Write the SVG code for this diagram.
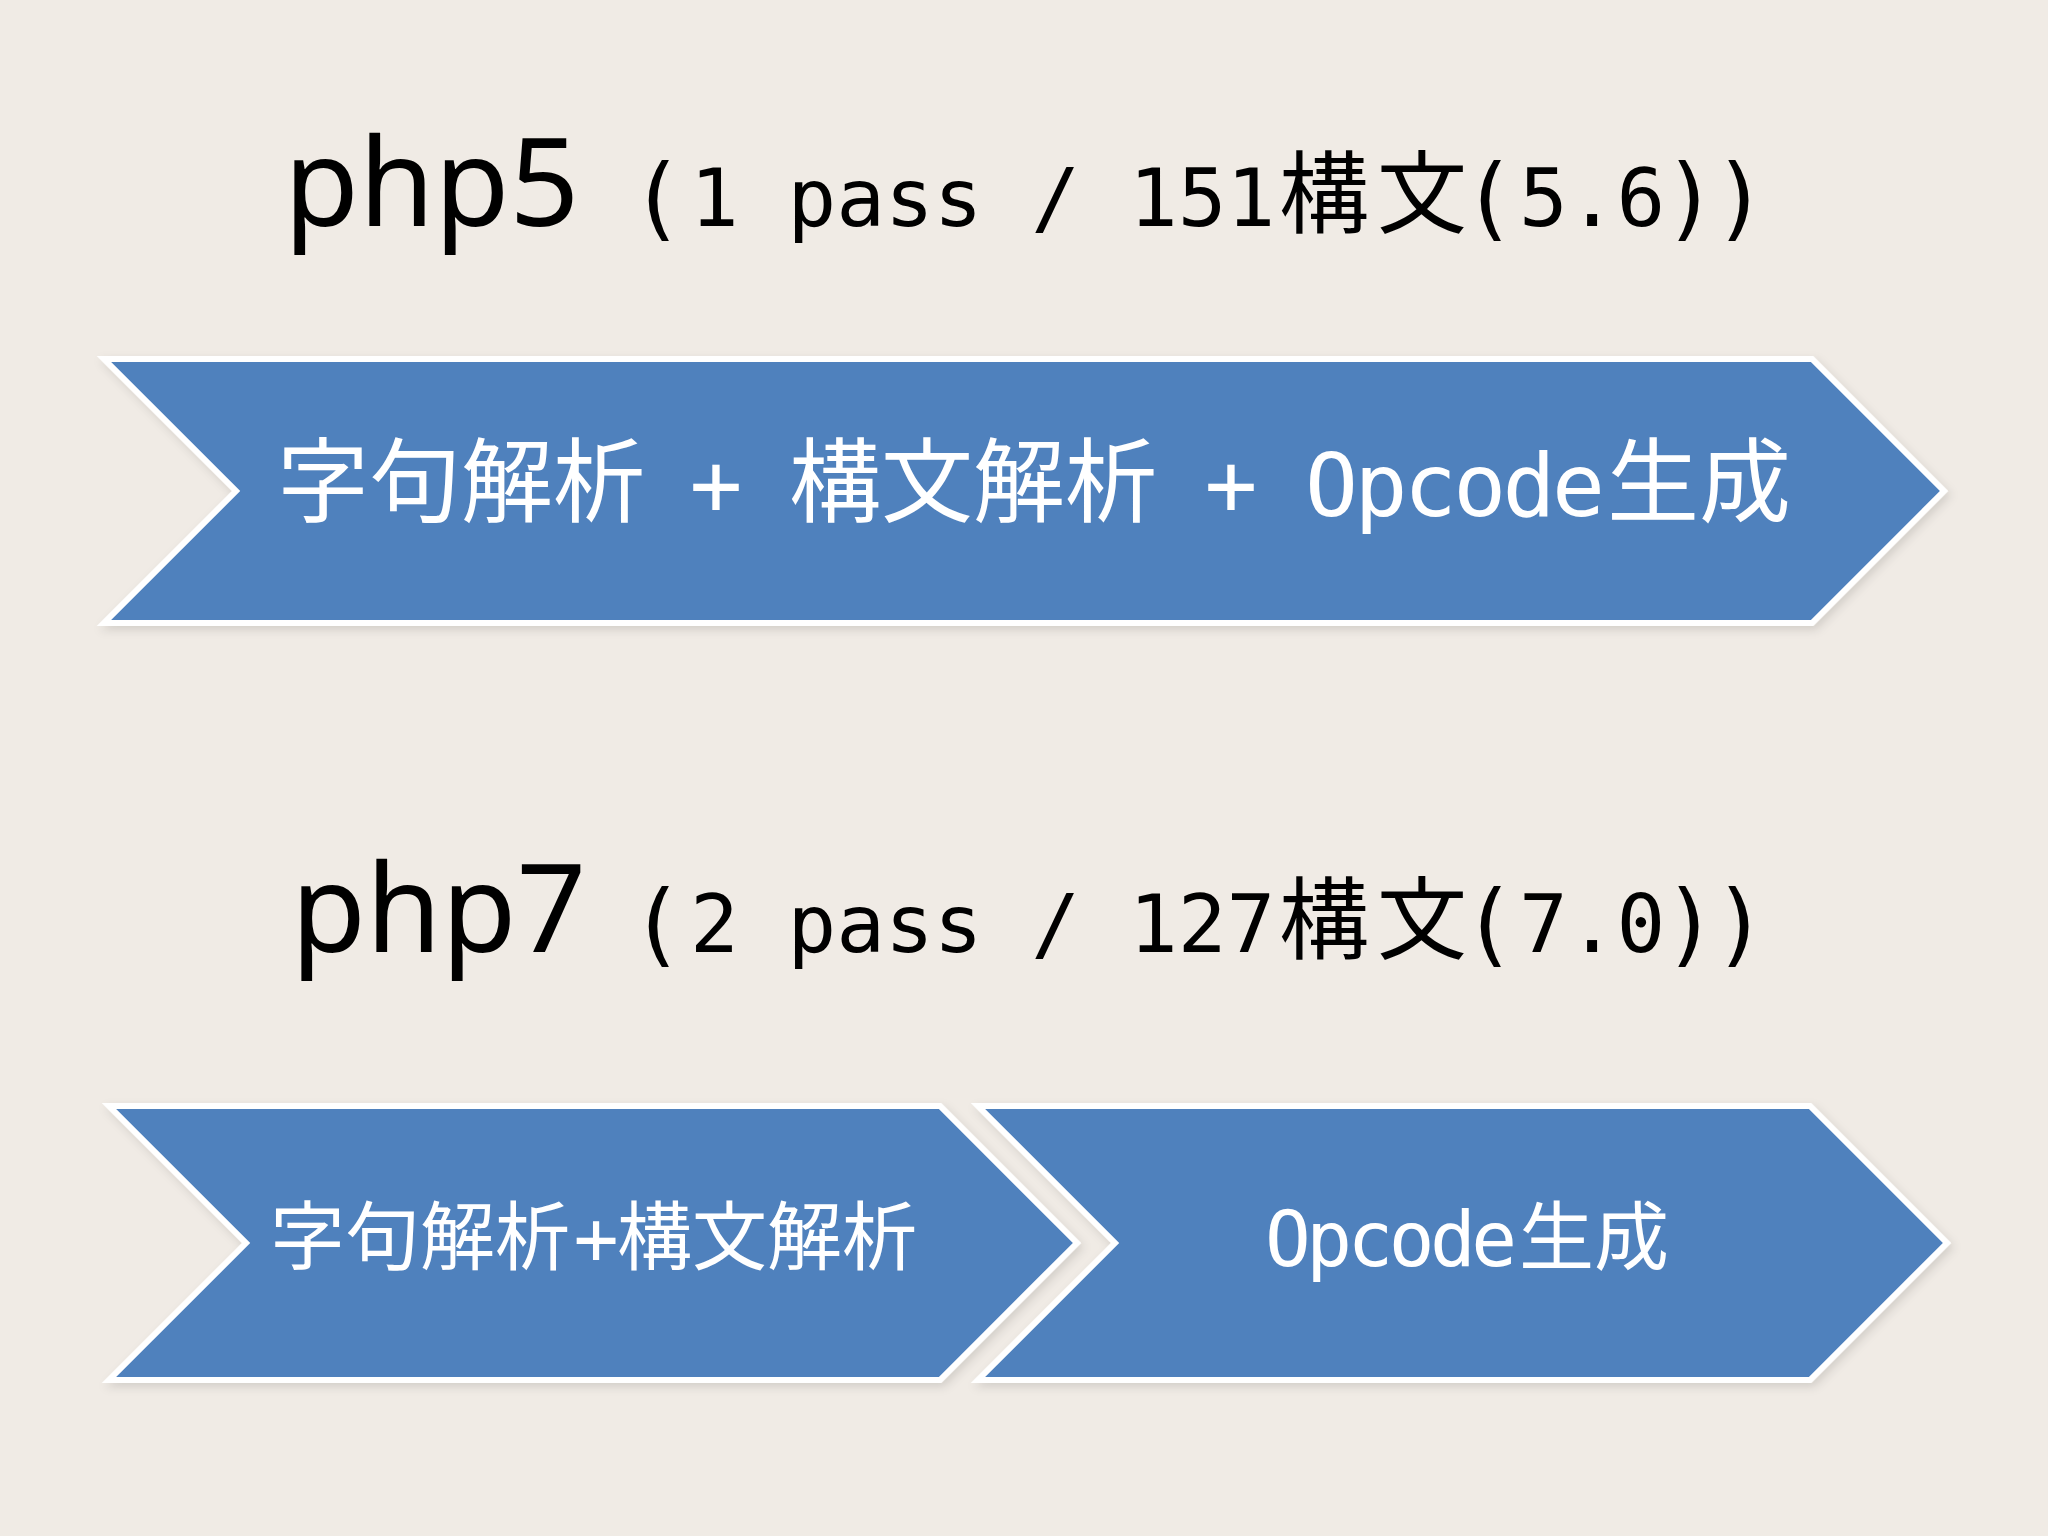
<svg xmlns="http://www.w3.org/2000/svg" width="2048" height="1536" viewBox="0 0 2048 1536">
  <defs>
    <style>
      .bg { fill: #F0EBE5; }
      .chev { fill: #4F81BD; stroke: #FFFFFF; stroke-width: 6; stroke-linejoin: miter; stroke-miterlimit: 6; }
      .title { font-family: "Noto Sans", "Open Sans", sans-serif; font-size: 122px; fill: #000000; }
      .mono { font-family: "DejaVu Sans Mono", "Liberation Mono", monospace; font-size: 81px; fill: #000000; }
      .paren { font-family: "DejaVu Sans Mono", "Liberation Mono", monospace; font-size: 90px; fill: #000000; text-anchor: middle; }
      .cjk { font-family: "Noto Sans CJK JP", "Noto Sans CJK SC", sans-serif; fill: #000000; }
      .wcjk { font-family: "Noto Sans CJK JP", "Noto Sans CJK SC", sans-serif; fill: #FFFFFF; }
      .wmono { font-family: "DejaVu Sans Mono", "Liberation Mono", monospace; fill: #FFFFFF; }
    </style>
    <filter id="shadow" x="-5%" y="-10%" width="110%" height="125%">
      <feDropShadow dx="3" dy="4" stdDeviation="5" flood-color="#000000" flood-opacity="0.12"/>
    </filter>
  </defs>

  <rect class="bg" x="0" y="0" width="2048" height="1536"/>

  <g id="title-php5">
    <text class="title" x="284" y="226">php5</text>
    <text class="paren" x="657" y="229">(</text>
    <text class="mono" x="690" y="226">1 pass / 151</text>
    <text class="cjk" x="1279" y="226" font-size="90">構</text>
    <text class="cjk" x="1377" y="226" font-size="90">文</text>
    <text class="paren" x="1489" y="229">(</text>
    <text class="mono" x="1519" y="226">5.6</text>
    <text class="paren" x="1690" y="229">)</text>
    <text class="paren" x="1740" y="229">)</text>
  </g>

  <g id="chevron-php5">
    <polygon class="chev" filter="url(#shadow)" points="104,359 1812,359 1944,491 1812,623 104,623 236,491"/>
    <text class="wcjk" x="277" y="515" font-size="92">字句解析</text>
    <text class="wmono" x="716" y="515" font-size="88" text-anchor="middle">+</text>
    <text class="wcjk" x="789" y="515" font-size="92">構文解析</text>
    <text class="wmono" x="1231" y="515" font-size="88" text-anchor="middle">+</text>
    <text class="wmono" x="1305" y="516" font-size="88" textLength="300" lengthAdjust="spacing">Opcode</text>
    <text class="wcjk" x="1607" y="515" font-size="92">生成</text>
  </g>

  <g id="title-php7">
    <text class="title" x="291" y="952">php7</text>
    <text class="paren" x="657" y="955">(</text>
    <text class="mono" x="690" y="952">2 pass / 127</text>
    <text class="cjk" x="1279" y="952" font-size="90">構</text>
    <text class="cjk" x="1377" y="952" font-size="90">文</text>
    <text class="paren" x="1489" y="955">(</text>
    <text class="mono" x="1519" y="952">7.0</text>
    <text class="paren" x="1690" y="955">)</text>
    <text class="paren" x="1740" y="955">)</text>
  </g>

  <g id="chevron-php7-parse">
    <polygon class="chev" filter="url(#shadow)" points="109,1106 940,1106 1077,1243 940,1380 109,1380 246,1243"/>
    <text class="wcjk" x="270" y="1264" font-size="75">字句解析</text>
    <text class="wmono" x="596" y="1264" font-size="75" text-anchor="middle">+</text>
    <text class="wcjk" x="617" y="1264" font-size="75">構文解析</text>
  </g>

  <g id="chevron-php7-opcode">
    <polygon class="chev" filter="url(#shadow)" points="978,1106 1810,1106 1947,1243 1810,1380 978,1380 1115,1243"/>
    <text class="wmono" x="1265" y="1266" font-size="76" textLength="252" lengthAdjust="spacing">Opcode</text>
    <text class="wcjk" x="1519" y="1264" font-size="75">生成</text>
  </g>

  <g id="connectors"/>
</svg>
